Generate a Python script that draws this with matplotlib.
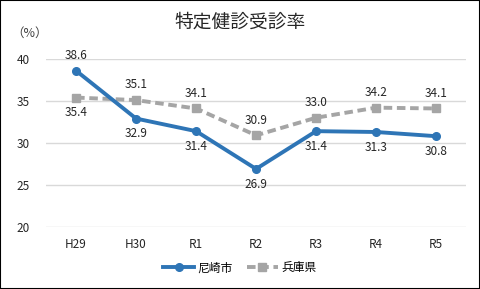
import matplotlib
matplotlib.use("Agg")
import matplotlib.pyplot as plt

plt.rcParams['font.family'] = ['Noto Sans CJK JP', 'DejaVu Sans']

years = ["H29", "H30", "R1", "R2", "R3", "R4", "R5"]
amagasaki = [38.6, 32.9, 31.4, 26.9, 31.4, 31.3, 30.8]
hyogo = [35.4, 35.1, 34.1, 30.9, 33.0, 34.2, 34.1]

# label placement: +1 above, -1 below
amagasaki_pos = [1, -1, -1, -1, -1, -1, -1]
hyogo_pos = [-1, 1, 1, 1, 1, 1, 1]

blue = "#2E75B6"
gray = "#A5A5A5"

fig = plt.figure(figsize=(4.8, 2.89), dpi=100)
ax = fig.add_axes([0.096, 0.215, 0.875, 0.581])

x = list(range(len(years)))
ax.plot(x, hyogo, color=gray, lw=2.8, ls=(0, (2.2, 1.2)), marker="s", ms=5.5, label="兵庫県", zorder=2)
ax.plot(x, amagasaki, color=blue, lw=2.8, marker="o", ms=5.5, label="尼崎市", zorder=3)

for i in x:
    ax.annotate(f"{amagasaki[i]:.1f}", (i, amagasaki[i]), xytext=(0, 11 * amagasaki_pos[i]),
                textcoords="offset points", ha="center", va="center", fontsize=8.5, color="#262626")
    ax.annotate(f"{hyogo[i]:.1f}", (i, hyogo[i]), xytext=(0, 11 * hyogo_pos[i]),
                textcoords="offset points", ha="center", va="center", fontsize=8.5, color="#262626")

ax.set_xlim(-0.5, 6.5)
ax.set_ylim(20, 40)
ax.set_yticks([20, 25, 30, 35, 40])
ax.set_xticks(x)
ax.set_xticklabels(years)
ax.grid(axis="y", color="#D9D9D9", lw=1)
ax.set_axisbelow(True)
for s in ax.spines.values():
    s.set_visible(False)
ax.tick_params(length=0, labelsize=8.5, colors="#262626")
ax.tick_params(axis="y", pad=12)
ax.tick_params(axis="x", pad=8)

fig.text(0.5, 0.925, "特定健診受診率", ha="center", va="center", fontsize=13.5, color="#262626")
fig.text(0.062, 0.885, "（%）", ha="center", va="center", fontsize=9, color="#404040")

h, l = ax.get_legend_handles_labels()
fig.legend(h[::-1], l[::-1], loc="center", bbox_to_anchor=(0.5, 0.073), ncol=2, frameon=False,
           fontsize=8.5, handlelength=2.6, columnspacing=1.2, handletextpad=0.3)

fig.patches.append(plt.Rectangle((0, 0), 1, 1, transform=fig.transFigure, fill=False,
                                 edgecolor="black", lw=1.5))

fig.savefig("out.png", dpi=100)
